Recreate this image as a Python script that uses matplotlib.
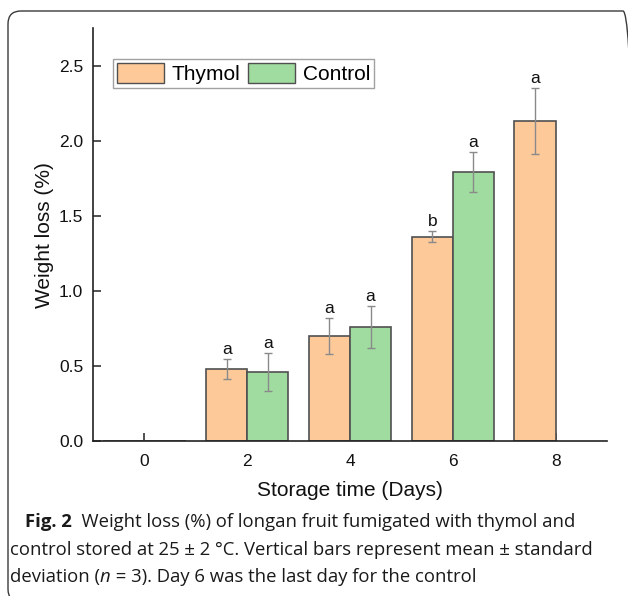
import numpy as np
import matplotlib
matplotlib.use("Agg")
import matplotlib.pyplot as plt
from matplotlib.patches import FancyBboxPatch, Patch
from matplotlib.transforms import IdentityTransform

# ---------------- data ----------------
days = [0, 2, 4, 6, 8]
thymol = [0.0, 0.48, 0.70, 1.36, 2.13]
thymol_err = [0.0, 0.065, 0.12, 0.035, 0.22]
control = [0.0, 0.46, 0.76, 1.79, np.nan]
control_err = [0.0, 0.125, 0.14, 0.135, np.nan]
thymol_letters = ["", "a", "a", "b", "a"]
control_letters = ["", "a", "a", "a", ""]
series_names = ["Thymol", "Control"]
y_ticks = [0.0, 0.5, 1.0, 1.5, 2.0, 2.5]
x_ticks = [0, 2, 4, 6, 8]

# ---------------- style ----------------
W, H = 628, 596
DPI = 100
CH_FONT = "Liberation Sans"
CAP_FONT = "Open Sans"
col_thymol = "#FDC999"
col_control = "#A0DB9F"
edge = "#505050"
err_col = "#8a8a8a"

def fx(px):
    return px / W

def fy(py):
    return 1 - py / H

fig = plt.figure(figsize=(W / DPI, H / DPI), dpi=DPI)
fig.patch.set_facecolor("white")

ax = fig.add_axes([fx(93), fy(441), fx(607) - fx(93), fy(28) - fy(441)])
bw = 0.8
x = np.array(days, dtype=float)
ax.bar(x - bw / 2, thymol, bw, color=col_thymol, edgecolor=edge, linewidth=1.2, zorder=2)
ax.bar(x + bw / 2, control, bw, color=col_control, edgecolor=edge, linewidth=1.2, zorder=2)

def draw_err(xs, vals, errs, letters):
    for xi, v, e, lab in zip(xs, vals, errs, letters):
        if v is None or np.isnan(v) or e is None or np.isnan(e) or e <= 0:
            continue
        ax.errorbar([xi], [v], yerr=[e], fmt="none", ecolor=err_col, elinewidth=1.0,
                    capsize=3, capthick=1.0, zorder=3)
        if lab:
            ax.annotate(lab, (xi, v + e), xytext=(0, 1.5), textcoords="offset points",
                        ha="center", va="bottom", fontsize=12.5, family=CH_FONT, color="#111111")

draw_err(x - bw / 2, thymol, thymol_err, thymol_letters)
draw_err(x + bw / 2, control, control_err, control_letters)

ax.set_xlim(-1, 9)
ax.set_ylim(0, 2.75)
ax.set_xticks(x_ticks)
ax.set_xticklabels([str(t) for t in x_ticks], family=CH_FONT, fontsize=12.5)
ax.set_yticks(y_ticks)
ax.set_yticklabels([f"{t:.1f}" for t in y_ticks], family=CH_FONT, fontsize=12.5)
ax.tick_params(direction="in", length=6, width=1.1, color="#222222", labelcolor="#111111")
ax.tick_params(axis="x", pad=9)
ax.tick_params(axis="y", pad=7)
for s in ["top", "right"]:
    ax.spines[s].set_visible(False)
for s in ["left", "bottom"]:
    ax.spines[s].set_linewidth(1.2)
    ax.spines[s].set_color("#222222")

handles = [Patch(facecolor=col_thymol, edgecolor=edge, linewidth=1.0),
           Patch(facecolor=col_control, edgecolor=edge, linewidth=1.0)]
leg = ax.legend(handles, series_names, ncol=2, loc="upper left",
                bbox_to_anchor=(fx(113), fy(59)), bbox_transform=fig.transFigure,
                prop={"family": CH_FONT, "size": 15}, frameon=True, fancybox=False,
                borderpad=0.2, borderaxespad=0, handlelength=2.25, handleheight=1.1,
                handletextpad=0.38, columnspacing=0.34, labelspacing=0.2)
leg.get_frame().set_edgecolor("#8a8a8a")
leg.get_frame().set_linewidth(1.0)

fig.text(fx(45), fy(235), "Weight loss (%)", rotation=90, ha="center", va="center",
         family=CH_FONT, fontsize=15, color="#111111")
fig.text(fx(350), fy(490), "Storage time (Days)", ha="center", va="center",
         family=CH_FONT, fontsize=15, color="#111111")

# ---------------- frame ----------------
frame = FancyBboxPatch((8, -6), 628, H - 11 + 6, boxstyle="round,pad=0,rounding_size=13",
                       transform=IdentityTransform(), facecolor="none", edgecolor="#3a3a3a",
                       linewidth=1.0, clip_on=False)
fig.add_artist(frame)

# ---------------- caption ----------------
renderer = fig.canvas.get_renderer()

def place_line(x0, baseline, pieces, size):
    xcur = x0
    for txt, weight, style in pieces:
        t = fig.text(xcur / W, 1 - baseline / H, txt, ha="left", va="baseline",
                     family=CAP_FONT, fontsize=size, fontweight=weight, fontstyle=style,
                     color="#1a1a1a")
        bb = t.get_window_extent(renderer=renderer)
        xcur += bb.width
    return xcur

# fit font size so that line 2 spans the reference width
line2 = [("control stored at 25 \u00b1 2 \u00b0C. Vertical bars represent mean \u00b1 standard", "normal", "normal")]
probe = fig.text(0, 0, line2[0][0], family=CAP_FONT, fontsize=12)
pw = probe.get_window_extent(renderer=renderer).width
probe.remove()
cap_size = 12 * 580 / pw

place_line(25, 527, [("Fig. 2", "bold", "normal"),
                     ("  Weight loss (%) of longan fruit fumigated with thymol and", "normal", "normal")], cap_size)
place_line(10, 555, line2, cap_size)
place_line(10, 582, [("deviation (", "normal", "normal"), ("n", "normal", "italic"),
                     (" = 3). Day 6 was the last day for the control", "normal", "normal")], cap_size)

fig.savefig("out.png", dpi=DPI)
